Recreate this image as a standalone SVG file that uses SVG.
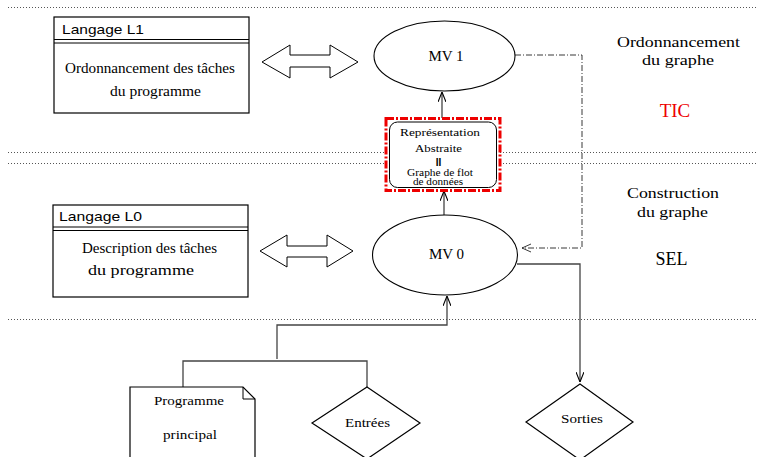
<svg xmlns="http://www.w3.org/2000/svg" width="757" height="457" viewBox="0 0 757 457">
<style>
.sep{stroke:#555;stroke-width:1;stroke-dasharray:1 2;fill:none}
.box{fill:#fff;stroke:#000;stroke-width:1.2}
.ell{fill:#fff;stroke:#000;stroke-width:1.1}
.serif{font-family:"Liberation Serif","Times New Roman",serif;fill:#000}
.sans{font-family:"Liberation Sans",Arial,sans-serif;fill:#000}
.conn{fill:none;stroke:#444;stroke-width:1.3}
.dd{fill:none;stroke:#222;stroke-width:0.9;stroke-dasharray:6 2 1 2}
.dbl{fill:#fff;stroke:#000;stroke-width:1}
</style>
<defs>
<marker id="arr" viewBox="0 0 10 8" refX="10" refY="4" markerWidth="10" markerHeight="8" markerUnits="userSpaceOnUse" orient="auto">
<path d="M0,0 L10,4 L0,8" fill="none" stroke="#000" stroke-width="1.1"/>
</marker>
</defs>
<g id="separators">
<line class="sep" x1="8" y1="7.5" x2="757" y2="7.5"/>
<line class="sep" x1="8" y1="152.5" x2="757" y2="152.5"/>
<line class="sep" x1="8" y1="163.5" x2="757" y2="163.5"/>
<line class="sep" x1="8" y1="319.5" x2="757" y2="319.5"/>
</g>
<g id="connectors">
<line class="conn" x1="442" y1="118" x2="442" y2="92" marker-end="url(#arr)"/>
<line class="conn" x1="444" y1="215" x2="444" y2="191" marker-end="url(#arr)"/>
<polyline class="dd" points="515,55 582,55 582,248 522,248"/>
<path d="M531,244 L522,248 L531,252" fill="none" stroke="#222" stroke-width="0.9"/>
<polyline class="conn" points="517,264 580,264 580,382" marker-end="url(#arr)"/>
<polyline class="conn" points="277,359 277,325 447,325 447,296" marker-end="url(#arr)"/>
<polyline class="conn" points="183,387 183,361 367,361 367,387"/>
<polygon class="dbl" points="262,62 290,45 290,55 330,55 330,45 358,62 330,78 330,67 290,67 290,78"/>
<polygon class="dbl" points="260,251 287,235 287,246 327,246 327,235 353,251 327,267 327,257 287,257 287,267"/>
</g>
<g id="langageL1">
<rect class="box" x="54" y="17" width="195" height="96"/>
<line x1="54" y1="39.5" x2="249" y2="39.5" stroke="#000" stroke-width="1"/>
<line x1="54" y1="43" x2="249" y2="43" stroke="#000" stroke-width="1"/>
<text class="sans" x="62" y="34" font-size="13.5" textLength="82" lengthAdjust="spacingAndGlyphs">Langage L1</text>
<text class="serif" x="65" y="73" font-size="14" textLength="170" lengthAdjust="spacingAndGlyphs">Ordonnancement des tâches</text>
<text class="serif" x="110" y="96" font-size="14" textLength="91" lengthAdjust="spacingAndGlyphs">du programme</text>
</g>
<g id="langageL0">
<rect class="box" x="53" y="205" width="195" height="92"/>
<line x1="53" y1="227" x2="248" y2="227" stroke="#000" stroke-width="1"/>
<line x1="53" y1="230.5" x2="248" y2="230.5" stroke="#000" stroke-width="1"/>
<text class="sans" x="59" y="221" font-size="13.5" textLength="83" lengthAdjust="spacingAndGlyphs">Langage L0</text>
<text class="serif" x="82" y="253" font-size="14" textLength="135" lengthAdjust="spacingAndGlyphs">Description des tâches</text>
<text class="serif" x="88" y="275" font-size="14" textLength="106" lengthAdjust="spacingAndGlyphs">du programme</text>
</g>
<g id="mv1">
<ellipse class="ell" cx="444.5" cy="56" rx="70.5" ry="35"/>
<text class="serif" x="446" y="61" font-size="15" text-anchor="middle">MV 1</text>
</g>
<g id="mv0">
<ellipse class="ell" cx="445" cy="255" rx="72.5" ry="40"/>
<text class="serif" x="446.5" y="259" font-size="15" text-anchor="middle">MV 0</text>
</g>
<g id="representation">
<rect x="386" y="118.5" width="114" height="72" fill="#fff" stroke="#e00" stroke-width="3" stroke-dasharray="8 2 2 2"/>
<rect x="389.5" y="122" width="107" height="65.5" rx="8" ry="8" fill="#fff" stroke="#000" stroke-width="1"/>
<text class="serif" x="400" y="136" font-size="11" textLength="80" lengthAdjust="spacingAndGlyphs">Représentation</text>
<text class="serif" x="415" y="152" font-size="11" textLength="47" lengthAdjust="spacingAndGlyphs">Abstraite</text>
<text class="sans" x="438.5" y="166" font-size="10" font-weight="bold" text-anchor="middle">II</text>
<text class="serif" x="407" y="175.5" font-size="10" textLength="66" lengthAdjust="spacingAndGlyphs">Graphe de flot</text>
<text class="serif" x="413" y="185" font-size="10" textLength="50" lengthAdjust="spacingAndGlyphs">de données</text>
</g>
<g id="tic">
<text class="serif" x="617" y="47" font-size="15" textLength="123" lengthAdjust="spacingAndGlyphs">Ordonnancement</text>
<text class="serif" x="642" y="65" font-size="15" textLength="72" lengthAdjust="spacingAndGlyphs">du graphe</text>
<text x="675" y="117" font-size="19" text-anchor="middle" font-family="Liberation Serif, serif" fill="#e00">TIC</text>
</g>
<g id="sel">
<text class="serif" x="627" y="198" font-size="15" textLength="92" lengthAdjust="spacingAndGlyphs">Construction</text>
<text class="serif" x="637" y="217" font-size="15" textLength="71" lengthAdjust="spacingAndGlyphs">du graphe</text>
<text class="serif" x="671.5" y="265" font-size="18" text-anchor="middle">SEL</text>
</g>
<g id="programme">
<path d="M130,387 L243,387 L255,399 L255,462 L130,462 Z" class="box"/>
<path d="M243,387 L243,399 L255,399" fill="none" stroke="#000" stroke-width="1"/>
<text class="serif" x="154" y="405" font-size="13" textLength="70" lengthAdjust="spacingAndGlyphs">Programme</text>
<text class="serif" x="163" y="439" font-size="13" textLength="54" lengthAdjust="spacingAndGlyphs">principal</text>
</g>
<g id="entrees">
<polygon class="box" points="367,387 420,423 367,459 312,423"/>
<text class="serif" x="345" y="427" font-size="13" textLength="45" lengthAdjust="spacingAndGlyphs">Entrées</text>
</g>
<g id="sorties">
<polygon class="box" points="580,384 633,422 580,460 526,422"/>
<text class="serif" x="561" y="423" font-size="12.5" textLength="42" lengthAdjust="spacingAndGlyphs">Sorties</text>
</g>
</svg>
